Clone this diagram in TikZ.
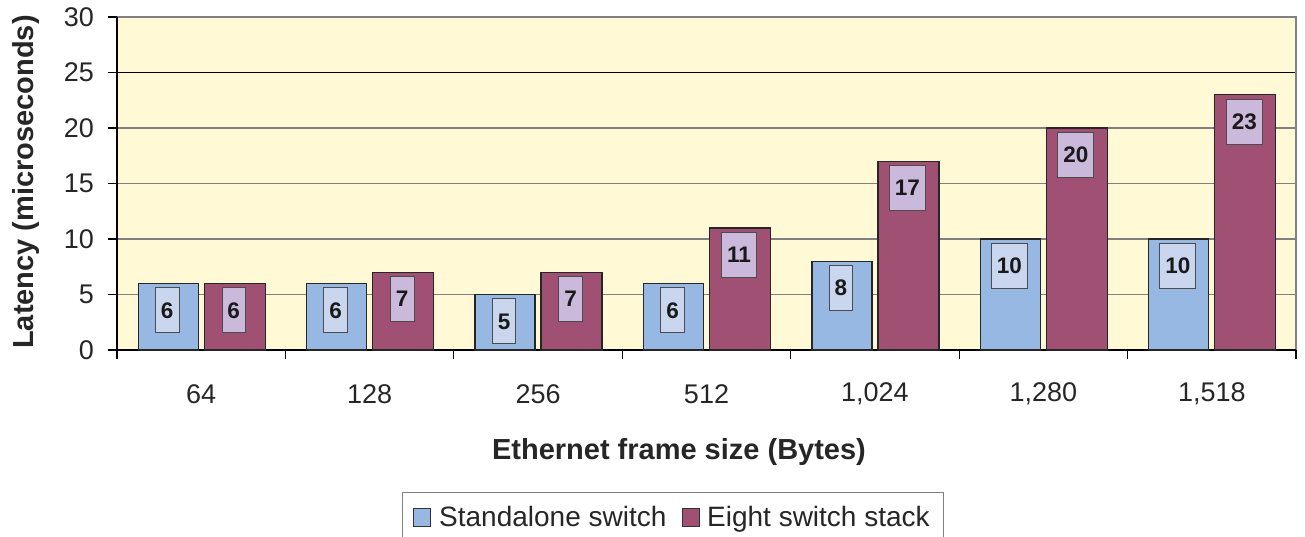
\documentclass[tikz,border=0pt]{standalone}
\usepackage{fontspec}
\setmainfont{Liberation Sans}
\usepackage{tikz}
\definecolor{plot-yellow}{HTML}{FFFAD5}
\definecolor{bar-blue}{HTML}{96B8E2}
\definecolor{bar-plum}{HTML}{A05073}
\definecolor{tag-blue}{HTML}{C9D6EE}
\definecolor{tag-plum}{HTML}{CBB9DB}
\definecolor{grid-gray}{gray}{0.5}
\newcommand*\tickfont{\fontsize{27}{27}\selectfont}
\newcommand*\titlefont{\fontsize{29}{29}\selectfont\bfseries}
\newcommand*\tagfont{\fontsize{22.5}{22.5}\selectfont\bfseries\color{black!90}}
\newcommand*\keyfont{\fontsize{28}{28}\selectfont}

\begin{document}
\begin{tikzpicture}[x=1pt,y=1pt,
				bar/.style={draw=black!85,line width=1.3pt},
				tag/.style={draw=black!70,line width=0.8pt,font=\tagfont,minimum height=45pt,inner xsep=5.5pt,inner ysep=0pt,anchor=north},
				grid line/.style={line width=1.2pt},
				axis line/.style={draw=black,line width=1.2pt},
				ticklabel/.style={inner sep=0pt,font=\tickfont,text=black!85},
				axistitle/.style={inner sep=0pt,font=\titlefont,text=black!85},
				legendkey/.style={draw=black!80,line width=0.9pt,minimum width=17pt,minimum height=18pt,inner sep=0pt,anchor=south west},
				legendtext/.style={inner sep=0pt,font=\keyfont,text=black!85,anchor=base west}]
				\useasboundingbox (0,0) rectangle (1305,537);
				\fill[plot-yellow] (117,187) rectangle (1296,520);
				\foreach \k/\c in {1/grid-gray,2/grid-gray,3/grid-gray,4/grid-gray,5/black}
					\draw[grid line,draw=\c] (117,187+55.5*\k) -- (1296,187+55.5*\k);
				\draw[grid line,draw=grid-gray] (117,520) -- (1296,520) -- (1296,187);
				\draw[axis line] (117,520) -- (117,187) -- (1296,187);
				\foreach \k in {0,...,6} {
					\pgfmathtruncatemacro\yv{5*\k}
					\draw[axis line] (108,187+55.5*\k) -- (117,187+55.5*\k);
					\node[ticklabel,anchor=east] (y\k) at (94,187+55.5*\k) {\yv};
				}
				\foreach \k in {0,...,7}
					\draw[axis line] (117+168.43*\k,187) -- (117+168.43*\k,178);
				\foreach \t [count=\i] in {64,128,256,512,{1,024},{1,280},{1,518}}
					\node[ticklabel] (x\i) at ({117+168.43*(\i-0.5)},143) {\t};
				\foreach \s/\e [count=\i] in {6/6,6/7,5/7,6/11,8/17,10/20,10/23} {
					\pgfmathsetmacro\cx{117+168.43*(\i-0.5)}
					\draw[bar,fill=bar-blue] (\cx-63,187) rectangle (\cx-3,187+11.1*\s);
					\node[tag,fill=tag-blue] (s\i) at (\cx-34,183+11.1*\s) {\s};
					\draw[bar,fill=bar-plum] (\cx+3,187) rectangle (\cx+64,187+11.1*\e);
					\node[tag,fill=tag-plum] (e\i) at (\cx+32.5,183+11.1*\e) {\e};
				}
				\node[axistitle,anchor=base] (xtitle) at (679,77) {Ethernet frame size (Bytes)};
				\node[axistitle,rotate=90,anchor=base] (ytitle) at (33,355) {Latency (microseconds)};
				\draw[draw=grid-gray,line width=1pt] (402,0) |- (943,44) -- (943,0);
				\node[legendkey,fill=bar-blue] (kstd) at (413,10) {};
				\node[legendtext] (tstd) at (439,10) {Standalone switch};
				\node[legendkey,fill=bar-plum] (kstk) at (682,10) {};
				\node[legendtext] (tstk) at (707,10) {Eight switch stack};
				\end{tikzpicture}
\end{document}
